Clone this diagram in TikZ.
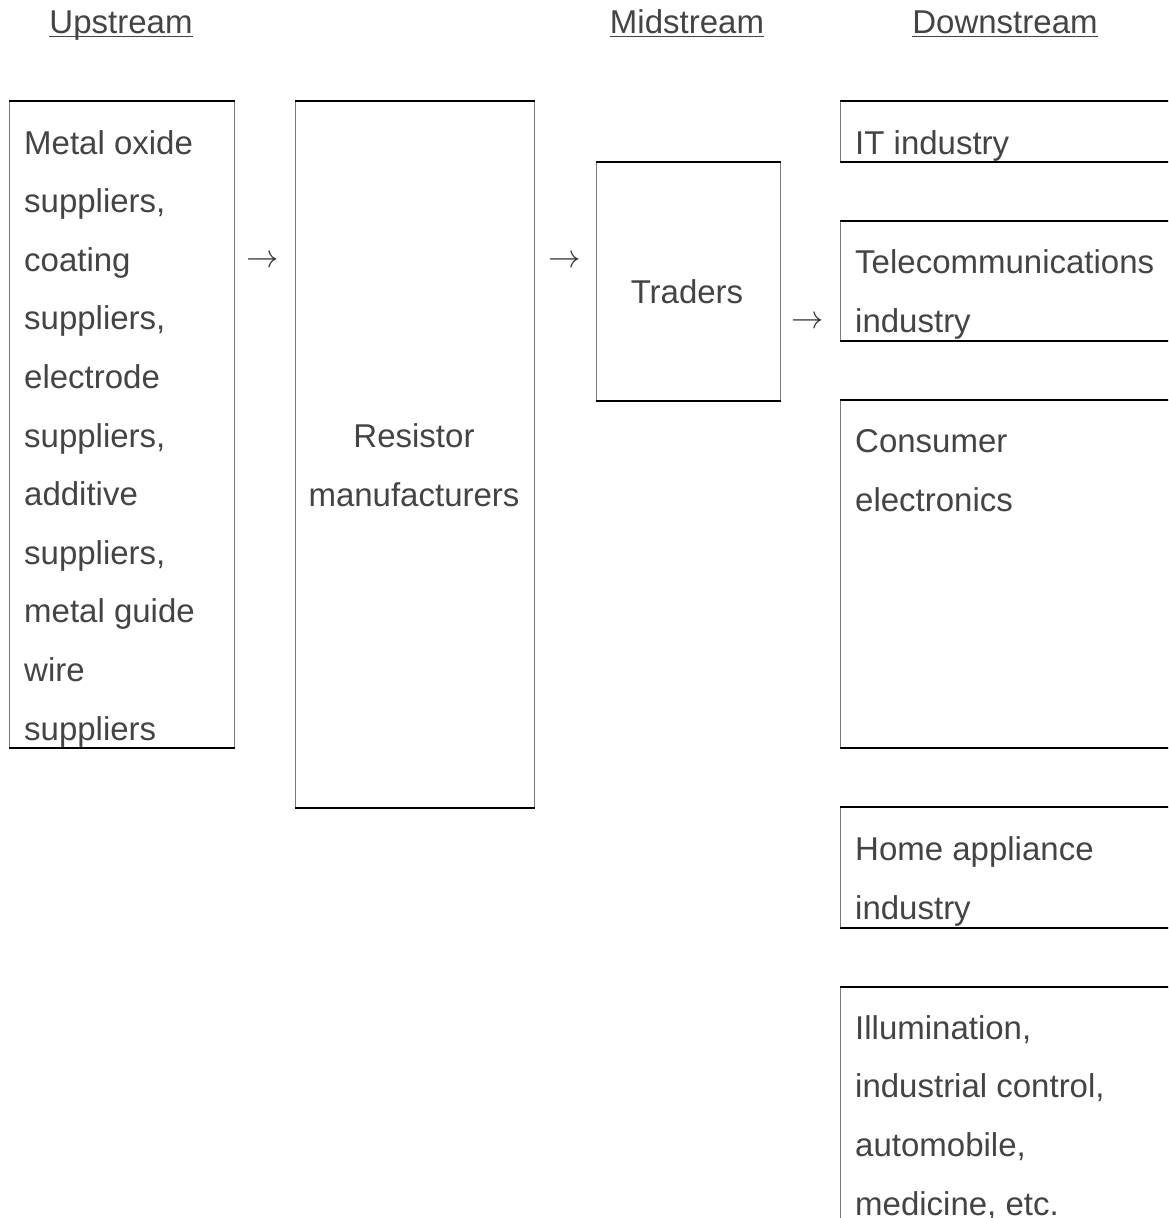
\documentclass[tikz,border=0pt]{standalone}
\usepackage{fontspec}
\setmainfont{Liberation Sans}
\usepackage{xcolor}
\usetikzlibrary{positioning}

\definecolor{txtgray}{HTML}{444444}
\definecolor{sidegray}{HTML}{7A7A7A}

\tikzset{
  cellbox/.style={rectangle, draw=sidegray, line width=1.3pt, inner sep=0pt, anchor=north west},
  rule/.style={line width=2pt, black},
  celltext/.style={text=txtgray, inner sep=0pt, align=left, font=\fontsize{33}{58.6}\selectfont},
  head/.style={text=txtgray, inner sep=0pt, anchor=base, font=\fontsize{33}{38}\selectfont},
  flow/.style={text=black!80, inner sep=0pt, scale=1.3, font=\fontsize{24.88}{30}\selectfont}
}

\begin{document}
\begin{tikzpicture}[x=1pt, y=-1pt]
  \useasboundingbox (0,0) rectangle (1168,1218);
  \clip (0,0) rectangle (1168,1218);

  % headings
  \node[head] (uphead) at (121,33) {Upstream};
  \node[head] (midhead) at (687,33) {Midstream};
  \node[head] (downhead) at (1005,33) {Downstream};
  \foreach \h in {uphead,midhead,downhead}
    \draw[txtgray, line width=1.5pt] ([yshift=-3.5pt]\h.base west) -- ([yshift=-3.5pt]\h.base east);

  % boxes
  \node[cellbox, minimum width=225pt, minimum height=646pt] (upbox) at (9,101) {};
  \node[cellbox, minimum width=239pt, minimum height=706pt] (resbox) at (295,101) {};
  \node[cellbox, minimum width=184pt, minimum height=238pt] (trdbox) at (596,162) {};
  \node[cellbox, minimum width=340pt, minimum height=60pt] (itbox) at (840,101) {};
  \node[cellbox, minimum width=340pt, minimum height=119pt] (telbox) at (840,221) {};
  \node[cellbox, minimum width=340pt, minimum height=347pt] (conbox) at (840,400) {};
  \node[cellbox, minimum width=340pt, minimum height=120pt] (homebox) at (840,807) {};
  \node[cellbox, minimum width=340pt, minimum height=250pt] (illbox) at (840,987) {};
  \foreach \b in {upbox,resbox,trdbox,itbox,telbox,conbox,homebox,illbox}
    \draw[rule] (\b.north west) -- (\b.north east) (\b.south west) -- (\b.south east);

  % texts (base = last line)
  \node[celltext, anchor=base west] (uptext) at (24,740) {Metal oxide\\suppliers,\\coating\\suppliers,\\electrode\\suppliers,\\additive\\suppliers,\\metal guide\\wire\\suppliers};
  \node[celltext, align=center, anchor=base] (restext) at (414,506) {Resistor\\manufacturers};
  \node[celltext, anchor=base] (trdtext) at (687,303) {Traders};
  \node[celltext, anchor=base west] (ittext) at (855,154) {IT industry};
  \node[celltext, anchor=base west] (teltext) at (855,332) {Telecommunications\\industry};
  \node[celltext, anchor=base west] (context) at (855,511) {Consumer\\electronics};
  \node[celltext, anchor=base west] (hometext) at (855,919) {Home appliance\\industry};
  \node[celltext, anchor=base west] (illtext) at (855,1215) {Illumination,\\industrial control,\\automobile,\\medicine, etc.};

  % arrows
  \node[flow] (flowa) at (263,262) {$\rightarrow$};
  \node[flow] (flowb) at (565,262) {$\rightarrow$};
  \node[flow] (flowc) at (808,323) {$\rightarrow$};
\end{tikzpicture}
\end{document}
